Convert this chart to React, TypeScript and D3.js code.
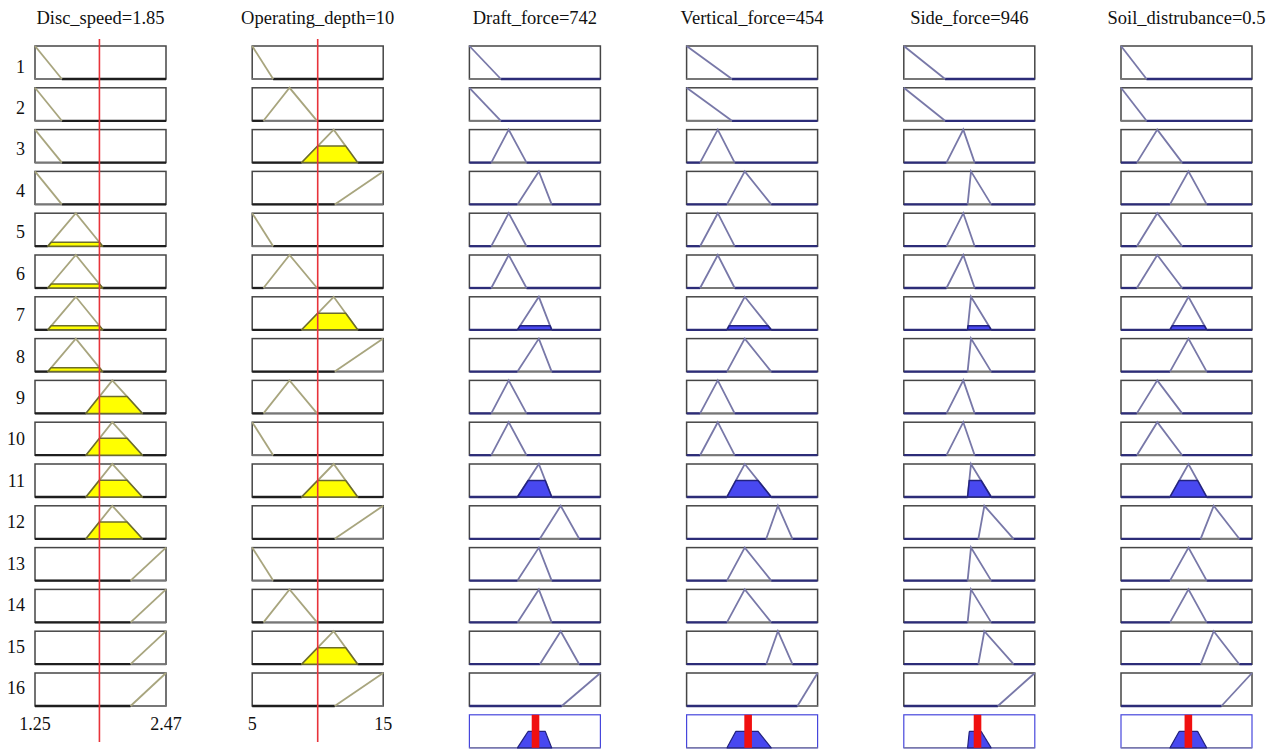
import React from "react";
import * as d3 from "d3";

// ---------- data ----------
const inputNames = ["Disc_speed", "Operating_depth"];
const inputValues = [1.85, 10];
const inputRanges: [number, number][] = [
  [1.25, 2.47],
  [5, 15],
];
const inputRangeLabels = [
  ["1.25", "2.47"],
  ["5", "15"],
];
// trapezoid params [a, b, c, d]
const discSpeedMFs = [
  [1.25, 1.25, 1.25, 1.5],
  [1.37, 1.63, 1.63, 1.88],
  [1.725, 1.97, 1.97, 2.25],
  [2.14, 2.47, 2.47, 2.47],
];
const operatingDepthMFs = [
  [5, 5, 5, 6.6],
  [5.86, 7.85, 7.85, 9.95],
  [8.78, 11.22, 11.22, 13.05],
  [11.3, 15, 15, 15],
];

const outputNames = ["Draft_force", "Vertical_force", "Side_force", "Soil_distrubance"];
const outputValueLabels = ["742", "454", "946", "0.5"];
// output MFs on a normalised [0,1] universe
const draftForceMFs = [
  [0, 0, 0, 0.24],
  [0.167, 0.3, 0.3, 0.436],
  [0.367, 0.53, 0.53, 0.628],
  [0.538, 0.697, 0.697, 0.838],
  [0.705, 1, 1, 1],
];
const verticalForceMFs = [
  [0, 0, 0, 0.346],
  [0.103, 0.238, 0.238, 0.367],
  [0.308, 0.444, 0.444, 0.646],
  [0.608, 0.697, 0.697, 0.808],
  [0.846, 1, 1, 1],
];
const sideForceMFs = [
  [0, 0, 0, 0.315],
  [0.326, 0.454, 0.454, 0.541],
  [0.487, 0.513, 0.513, 0.667],
  [0.569, 0.615, 0.615, 0.838],
  [0.718, 1, 1, 1],
];
const soilDisturbanceMFs = [
  [0, 0, 0, 0.195],
  [0.121, 0.277, 0.277, 0.467],
  [0.374, 0.515, 0.515, 0.654],
  [0.608, 0.708, 0.708, 0.903],
  [0.767, 1, 1, 1],
];

// rule base (indices into MF lists)
const ruleDiscSpeed = [0, 0, 0, 0, 1, 1, 1, 1, 2, 2, 2, 2, 3, 3, 3, 3];
const ruleOperatingDepth = [0, 1, 2, 3, 0, 1, 2, 3, 1, 0, 2, 3, 0, 1, 2, 3];
const ruleOutput = [0, 0, 1, 2, 1, 1, 2, 2, 1, 1, 2, 3, 2, 2, 3, 4];
const ruleLabels = ["1", "2", "3", "4", "5", "6", "7", "8", "9", "10", "11", "12", "13", "14", "15", "16"];

// ---------- helpers ----------
function trap(x: number, p: number[]) {
  const [a, b, c, d] = p;
  if (x < a || x > d) return 0;
  if (x < b) return (x - a) / (b - a);
  if (x <= c) return 1;
  return (d - x) / (d - c);
}

const FONT = "'Liberation Serif', 'Times New Roman', serif";
const COL_LEFT0 = 35;
const COL_PITCH = 217.2;
const BOX_W = 131;
const ROW_TOP0 = 46;
const ROW_PITCH = 41.8;
const BOX_H = 33;

const inputLine = "#a8a57e";
const inputFill = "#ffff00";
const inputFillStroke = "#6c6c2c";
const outputLine = "#7878a8";
const outputFill = "#4848f0";
const outputFillStroke = "#22227e";

function MFRow({
  x,
  y,
  mf,
  level,
  line,
  fill,
  fillStroke,
  zeroColor,
}: {
  x: d3.ScaleLinear<number, number>;
  y: d3.ScaleLinear<number, number>;
  mf: number[];
  level: number;
  line: string;
  fill: string;
  fillStroke: string;
  zeroColor: string;
}) {
  const [lo, hi] = x.domain();
  const [a, b, c, d] = mf;
  const xs = Array.from(new Set([lo, a, b, c, d, hi].map((v) => Math.max(lo, Math.min(hi, v))))).sort(
    (m, n) => m - n
  );
  const pts: [number, number][] = xs.map((v) => [v, trap(v, mf)]);
  const lineGen = d3
    .line<[number, number]>()
    .x((p) => x(p[0]))
    .y((p) => y(p[1]));
  const sLo = Math.max(lo, a);
  const sHi = Math.min(hi, d);
  let fillPath: string | null = null;
  if (level > 0.001) {
    const fx = Array.from(
      new Set(
        [a, a + level * (b - a), d - level * (d - c), d, b, c].map((v) => Math.max(lo, Math.min(hi, v)))
      )
    ).sort((m, n) => m - n);
    const fpts: [number, number][] = fx.map((v) => [v, Math.min(level, trap(v, mf))]);
    fillPath =
      d3
        .area<[number, number]>()
        .x((p) => x(p[0]))
        .y0(y(0))
        .y1((p) => y(p[1]))(fpts) || null;
  }
  const y0 = y(0);
  return (
    <g>
      <rect x={x(lo)} y={y(1)} width={x(hi) - x(lo)} height={y0 - y(1)} fill="#fff" stroke="#454545" strokeWidth={1.5} />
      <line x1={x(sLo)} x2={x(sHi)} y1={y0} y2={y0} stroke="#777" strokeWidth={2} />
      {a > lo && <line x1={x(lo)} x2={x(a)} y1={y0} y2={y0} stroke={zeroColor} strokeWidth={2.3} />}
      {d < hi && <line x1={x(d)} x2={x(hi)} y1={y0} y2={y0} stroke={zeroColor} strokeWidth={2.3} />}
      <path
        d={lineGen(pts.filter((p) => p[0] >= sLo && p[0] <= sHi)) || ""}
        fill="none"
        stroke={line}
        strokeWidth={1.8}
      />
      {fillPath && <path d={fillPath} fill={fill} stroke={fillStroke} strokeWidth={1.5} strokeLinejoin="round" />}
    </g>
  );
}

export default function App() {
  const inputMFs = [discSpeedMFs, operatingDepthMFs];
  const outputMFs = [draftForceMFs, verticalForceMFs, sideForceMFs, soilDisturbanceMFs];
  const ruleIn = [ruleDiscSpeed, ruleOperatingDepth];

  const colLeft = (i: number) => COL_LEFT0 + i * COL_PITCH;
  const rowY = (r: number) =>
    d3
      .scaleLinear()
      .domain([0, 1])
      .range([ROW_TOP0 + r * ROW_PITCH + BOX_H, ROW_TOP0 + r * ROW_PITCH]);

  // membership of each input value in each rule's antecedent
  const inMu = ruleIn.map((ri, k) => ri.map((m) => trap(inputValues[k], inputMFs[k][m])));
  const firing = ruleLabels.map((_, r) => Math.min(inMu[0][r], inMu[1][r]));

  const titles = [
    ...inputNames.map((n, i) => `${n}=${inputValues[i]}`),
    ...outputNames.map((n, i) => `${n}=${outputValueLabels[i]}`),
  ];

  const nRules = ruleLabels.length;

  return (
    <svg width={1282} height={751} style={{ position: "absolute", left: 0, top: 0, background: "#fff" }}>
      <rect width={1282} height={751} fill="#fff" />
      {titles.map((t, i) => (
        <text
          key={"t" + i}
          x={colLeft(i) + BOX_W / 2}
          y={24}
          textAnchor="middle"
          fontFamily={FONT}
          fontSize={18.5}
          fill="#111"
        >
          {t}
        </text>
      ))}
      {ruleLabels.map((l, r) => (
        <text key={"rl" + r} x={25} y={72.5 + r * 41.43} textAnchor="end" fontFamily={FONT} fontSize={18} fill="#111">
          {l}
        </text>
      ))}

      {/* inputs */}
      {inputMFs.map((mfs, k) => {
        const x = d3.scaleLinear().domain(inputRanges[k]).range([colLeft(k), colLeft(k) + BOX_W]);
        return (
          <g key={"in" + k}>
            {ruleLabels.map((_, r) => (
              <MFRow
                key={"in" + k + "-" + r}
                x={x}
                y={rowY(r)}
                mf={mfs[ruleIn[k][r]]}
                level={inMu[k][r]}
                line={inputLine}
                fill={inputFill}
                fillStroke={inputFillStroke}
                zeroColor="#1e1e1e"
              />
            ))}
            <text x={colLeft(k)} y={730} textAnchor="middle" fontFamily={FONT} fontSize={18} fill="#111">
              {inputRangeLabels[k][0]}
            </text>
            <text x={colLeft(k) + BOX_W} y={730} textAnchor="middle" fontFamily={FONT} fontSize={18} fill="#111">
              {inputRangeLabels[k][1]}
            </text>
            <line
              x1={x(inputValues[k])}
              x2={x(inputValues[k])}
              y1={39}
              y2={742}
              stroke="#e8333a"
              strokeWidth={1.6}
            />
          </g>
        );
      })}

      {/* outputs */}
      {outputMFs.map((mfs, j) => {
        const col = j + 2;
        const x = d3.scaleLinear().domain([0, 1]).range([colLeft(col), colLeft(col) + BOX_W]);
        const yAgg = rowY(nRules);
        const samples = d3.range(0, 1.00001, 0.0025);
        const agg: [number, number][] = samples.map((v) => [
          v,
          d3.max(ruleOutput.map((m, r) => Math.min(firing[r], trap(v, mfs[m])))) || 0,
        ]);
        const sumMu = d3.sum(agg, (p) => p[1]);
        const centroid = sumMu > 0 ? d3.sum(agg, (p) => p[0] * p[1]) / sumMu : 0.5;
        const aggPath =
          d3
            .area<[number, number]>()
            .x((p) => x(p[0]))
            .y0(yAgg(0))
            .y1((p) => yAgg(p[1]))
            .curve(d3.curveBasis)(agg.filter((p) => p[1] > 0)) || "";
        return (
          <g key={"out" + j}>
            {ruleLabels.map((_, r) => (
              <MFRow
                key={"out" + j + "-" + r}
                x={x}
                y={rowY(r)}
                mf={mfs[ruleOutput[r]]}
                level={firing[r]}
                line={outputLine}
                fill={outputFill}
                fillStroke={outputFillStroke}
                zeroColor="#2c2c78"
              />
            ))}
            <rect
              x={x(0)}
              y={yAgg(1)}
              width={BOX_W}
              height={yAgg(0) - yAgg(1)}
              fill="#fff"
              stroke="#4646dc"
              strokeWidth={1.2}
            />
            <line x1={x(0)} x2={x(1)} y1={yAgg(0)} y2={yAgg(0)} stroke="#7a7aa8" strokeWidth={1.6} />
            <path d={aggPath} fill={outputFill} stroke={outputFillStroke} strokeWidth={1.2} />
            <rect
              x={x(centroid) - 3.8}
              y={yAgg(1)}
              width={7.6}
              height={yAgg(0) - yAgg(1)}
              fill="#f01010"
            />
          </g>
        );
      })}
    </svg>
  );
}
